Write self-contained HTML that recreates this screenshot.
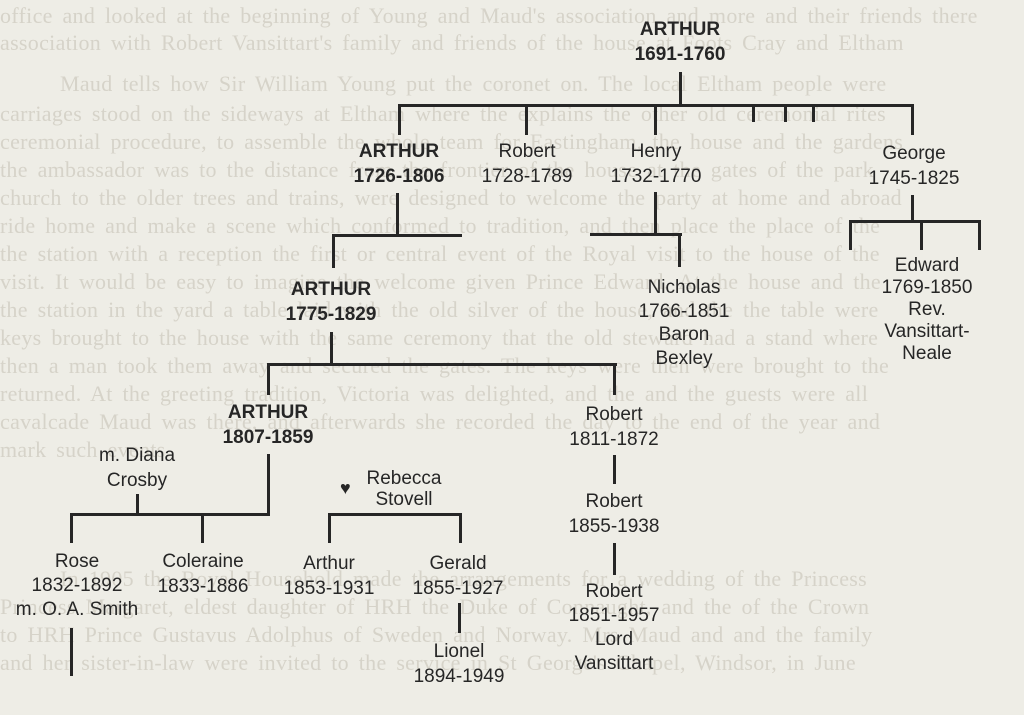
<!DOCTYPE html>
<html><head><meta charset="utf-8"><style>
html,body{margin:0;padding:0}
body{width:1024px;height:715px;background:#eeede6;position:relative;overflow:hidden;font-family:"Liberation Sans",sans-serif}
.bg{position:absolute;left:0;width:1010px;font-family:"Liberation Serif",serif;font-size:22px;color:#d6d3c9;white-space:nowrap;overflow:hidden;line-height:28px;letter-spacing:0.3px;word-spacing:4px}
.t{position:absolute;transform:translateX(-50%);text-align:center;font-size:19px;line-height:24.5px;color:#262626;white-space:nowrap}
.b{font-weight:bold}
.h{position:absolute;background:#262626;height:3px}
.v{position:absolute;background:#262626;width:3px}
</style></head><body>
<div class="bg" style="top:2px">office and looked at the beginning of Young and Maud's association and more and their friends there</div>
<div class="bg" style="top:29px">association with Robert Vansittart's family and friends of the house at Foots Cray and Eltham</div>
<div class="bg" style="top:70px;left:60px;width:950px">Maud tells how Sir William Young put the coronet on. The local Eltham people were</div>
<div class="bg" style="top:100px">carriages stood on the sideways at Eltham where the explains the other old ceremonial rites</div>
<div class="bg" style="top:128px">ceremonial procedure, to assemble the whole team for Eastingham, the house and the gardens</div>
<div class="bg" style="top:156px">the ambassador was to the distance from the frontier of the house at the gates of the park</div>
<div class="bg" style="top:184px">church to the older trees and trains, were designed to welcome the party at home and abroad</div>
<div class="bg" style="top:212px">ride home and make a scene which conformed to tradition, and then place the place of the</div>
<div class="bg" style="top:240px">the station with a reception the first or central event of the Royal visit to the house of the</div>
<div class="bg" style="top:268px">visit. It would be easy to imagine the welcome given Prince Edward. At the house and the</div>
<div class="bg" style="top:296px">the station in the yard a table laid with the old silver of the house, and the the table were</div>
<div class="bg" style="top:324px">keys brought to the house with the same ceremony that the old steward had a stand where</div>
<div class="bg" style="top:352px">then a man took them away and secured the gates. The keys were then were brought to the</div>
<div class="bg" style="top:380px">returned. At the greeting tradition, Victoria was delighted, and the and the guests were all</div>
<div class="bg" style="top:408px">cavalcade Maud was there, and afterwards she recorded the day to the end of the year and</div>
<div class="bg" style="top:436px">mark such events.</div>
<div class="bg" style="top:565px;left:60px;width:950px">In 1905 the Royal Household made the arrangements for a wedding of the Princess</div>
<div class="bg" style="top:593px">Princess Margaret, eldest daughter of HRH the Duke of Connaught, and the of the Crown</div>
<div class="bg" style="top:621px">to HRH Prince Gustavus Adolphus of Sweden and Norway. Mrs Maud and and the family</div>
<div class="bg" style="top:649px">and her sister-in-law were invited to the service in St George's Chapel, Windsor, in June</div>

<div class="t b" style="left:680px;top:18px">ARTHUR<br>1691-1760</div>
<div class="v" style="left:679px;top:72px;height:34px"></div>
<div class="h" style="left:398px;top:104px;width:516px"></div>
<div class="v" style="left:398px;top:104px;height:31px"></div>
<div class="v" style="left:525px;top:104px;height:31px"></div>
<div class="v" style="left:654px;top:104px;height:31px"></div>
<div class="v" style="left:752px;top:104px;height:18px"></div>
<div class="v" style="left:784px;top:104px;height:18px"></div>
<div class="v" style="left:812px;top:104px;height:18px"></div>
<div class="v" style="left:911px;top:104px;height:31px"></div>

<div class="t b" style="left:399px;top:140px">ARTHUR<br>1726-1806</div>
<div class="t" style="left:527px;top:140px">Robert<br>1728-1789</div>
<div class="t" style="left:656px;top:140px">Henry<br>1732-1770</div>
<div class="t" style="left:914px;top:142px">George<br>1745-1825</div>

<div class="v" style="left:396px;top:193px;height:43px"></div>
<div class="h" style="left:332px;top:234px;width:130px"></div>
<div class="v" style="left:332px;top:234px;height:34px"></div>

<div class="v" style="left:654px;top:192px;height:43px"></div>
<div class="h" style="left:590px;top:233px;width:92px"></div>
<div class="v" style="left:678px;top:233px;height:34px"></div>

<div class="v" style="left:911px;top:195px;height:27px"></div>
<div class="h" style="left:849px;top:220px;width:132px"></div>
<div class="v" style="left:849px;top:220px;height:30px"></div>
<div class="v" style="left:920px;top:220px;height:30px"></div>
<div class="v" style="left:978px;top:220px;height:30px"></div>

<div class="t" style="left:927px;top:255px;line-height:22px">Edward<br>1769-1850<br>Rev.<br>Vansittart-<br>Neale</div>
<div class="t" style="left:684px;top:276px;line-height:23.5px">Nicholas<br>1766-1851<br>Baron<br>Bexley</div>

<div class="t b" style="left:331px;top:278px">ARTHUR<br>1775-1829</div>
<div class="v" style="left:330px;top:332px;height:33px"></div>
<div class="h" style="left:267px;top:363px;width:350px"></div>
<div class="v" style="left:267px;top:363px;height:32px"></div>
<div class="v" style="left:613px;top:363px;height:32px"></div>

<div class="t b" style="left:268px;top:401px">ARTHUR<br>1807-1859</div>
<div class="t" style="left:614px;top:403px">Robert<br>1811-1872</div>
<div class="v" style="left:613px;top:455px;height:29px"></div>
<div class="t" style="left:614px;top:490px">Robert<br>1855-1938</div>
<div class="v" style="left:613px;top:543px;height:32px"></div>
<div class="t" style="left:614px;top:580px;line-height:24px">Robert<br>1851-1957<br>Lord<br>Vansittart</div>

<div class="v" style="left:267px;top:454px;height:62px"></div>
<div class="h" style="left:70px;top:513px;width:200px"></div>
<div class="v" style="left:70px;top:513px;height:30px"></div>
<div class="v" style="left:201px;top:513px;height:30px"></div>
<div class="v" style="left:136px;top:494px;height:20px"></div>
<div class="t" style="left:137px;top:444px">m. Diana<br>Crosby</div>

<div class="t" style="left:77px;top:550px;line-height:24px">Rose<br>1832-1892<br>m. O. A. Smith</div>
<div class="v" style="left:70px;top:628px;height:48px"></div>
<div class="t" style="left:203px;top:550px">Coleraine<br>1833-1886</div>

<div style="position:absolute;left:340px;top:478px;font-size:18px;color:#262626">♥</div>
<div class="t" style="left:404px;top:468px;line-height:21px">Rebecca<br>Stovell</div>
<div class="h" style="left:328px;top:513px;width:134px"></div>
<div class="v" style="left:328px;top:513px;height:30px"></div>
<div class="v" style="left:459px;top:513px;height:30px"></div>

<div class="t" style="left:329px;top:552px">Arthur<br>1853-1931</div>
<div class="t" style="left:458px;top:552px">Gerald<br>1855-1927</div>
<div class="v" style="left:458px;top:603px;height:30px"></div>
<div class="t" style="left:459px;top:640px">Lionel<br>1894-1949</div>
</body></html>
